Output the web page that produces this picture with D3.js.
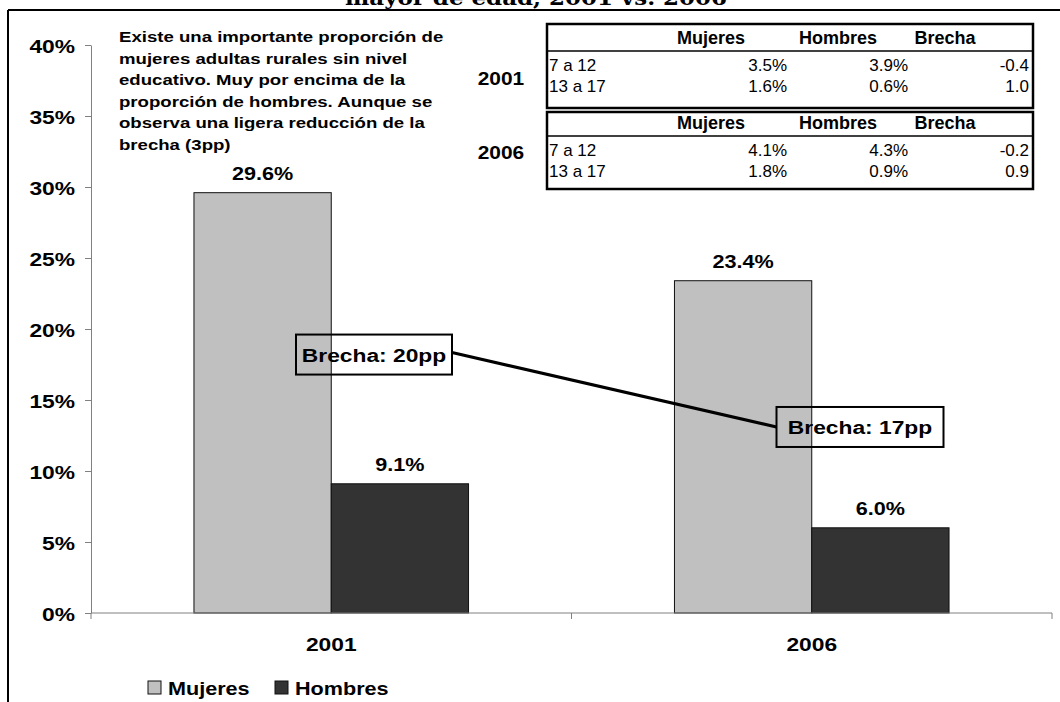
<!DOCTYPE html>
<html>
<head>
<meta charset="utf-8">
<script src="https://cdn.jsdelivr.net/npm/d3@7"></script>
<style>
  html, body { margin: 0; padding: 0; background: #fff; }
  svg { display: block; }
  text { font-family: "Liberation Sans", Arial, Helvetica, sans-serif; }
</style>
</head>
<body>
<svg id="chart" width="1060" height="702"></svg>
<script>
// ---------------- data ----------------
const titleText = "mayor de edad, 2001 vs. 2006";
const categories = ["2001", "2006"];
const series = ["Mujeres", "Hombres"];
const mujeres = [0.296, 0.234];
const hombres = [0.091, 0.060];
const yTicks = [0, 0.05, 0.10, 0.15, 0.20, 0.25, 0.30, 0.35, 0.40];
const brechaLabels = ["Brecha: 20pp", "Brecha: 17pp"];
const brechaLevels = [0.182, 0.131];
const noteLines = [
  "Existe una importante proporción de",
  "mujeres adultas rurales sin nivel",
  "educativo. Muy por encima de la",
  "proporción de hombres. Aunque se",
  "observa una ligera reducción de la",
  "brecha (3pp)"
];
const tableYears = ["2001", "2006"];
const tableHeaders = ["Mujeres", "Hombres", "Brecha"];
const ageGroups = ["7 a 12", "13 a 17"];
const tabMujeres = [[3.5, 1.6], [4.1, 1.8]];
const tabHombres = [[3.9, 0.6], [4.3, 0.9]];
const tabBrecha = [[-0.4, 1.0], [-0.2, 0.9]];

// ---------------- setup ----------------
const svg = d3.select("#chart");
const colors = { Mujeres: "#c0c0c0", Hombres: "#333333" };
const sx = 1.2; // horizontal stretch of the chart's text

const plot = { left: 91, right: 1052, top: 45, bottom: 613 };

const x0 = d3.scaleBand().domain(categories).range([plot.left, plot.right]).paddingInner(0).paddingOuter(0);
const x1 = d3.scaleBand().domain(series).range([0, x0.bandwidth()]).paddingInner(0).paddingOuter(0.75);
const y = d3.scaleLinear().domain([0, 0.40]).range([plot.bottom, plot.top]);

function stext(g, x, yy, str, size, anchor, weight, scale) {
  return g.append("text")
    .attr("transform", `translate(${x},${yy}) scale(${scale === undefined ? sx : scale},1)`)
    .attr("text-anchor", anchor || "start")
    .style("font-size", size + "px")
    .style("font-weight", weight || "bold")
    .attr("fill", "#000")
    .text(str);
}

// frame
svg.append("line").attr("x1", 8).attr("x2", 1060).attr("y1", 10).attr("y2", 10).attr("stroke", "#000").attr("stroke-width", 2);
svg.append("line").attr("x1", 8).attr("x2", 8).attr("y1", 10).attr("y2", 702).attr("stroke", "#000").attr("stroke-width", 2);

// title (cut off at the top, as in the reference)
svg.append("text")
  .attr("x", 536).attr("y", 5)
  .attr("text-anchor", "middle")
  .attr("textLength", 382).attr("lengthAdjust", "spacingAndGlyphs")
  .style("font-family", "'DejaVu Serif', 'Liberation Serif', serif")
  .style("font-weight", "bold").style("font-size", "20px")
  .text(titleText);

// bars
const data = categories.map((c, i) => ({ cat: c, values: [
  { key: "Mujeres", v: mujeres[i] },
  { key: "Hombres", v: hombres[i] }
]}));

const groups = svg.append("g").selectAll("g").data(data).join("g")
  .attr("transform", d => `translate(${x0(d.cat)},0)`);

groups.selectAll("rect").data(d => d.values).join("rect")
  .attr("x", d => x1(d.key))
  .attr("y", d => y(d.v))
  .attr("width", x1.bandwidth())
  .attr("height", d => y(0) - y(d.v))
  .attr("fill", d => colors[d.key])
  .attr("stroke", "#111")
  .attr("stroke-width", 1);

groups.each(function(d) {
  const g = d3.select(this);
  d.values.forEach(v => {
    stext(g, x1(v.key) + x1.bandwidth() / 2, y(v.v) - 13, d3.format(".1%")(v.v), 18, "middle");
  });
});

// y axis
const yAxis = svg.append("g")
  .attr("transform", `translate(${plot.left},0)`)
  .call(d3.axisLeft(y).tickValues(yTicks).tickFormat(d3.format(".0%")).tickSize(6).tickSizeOuter(0));
yAxis.select(".domain").attr("stroke", "#808080");
yAxis.selectAll(".tick line").attr("stroke", "#808080");
yAxis.selectAll(".tick text")
  .attr("x", null).attr("dy", null)
  .attr("transform", `translate(-16,7) scale(${sx},1)`)
  .attr("fill", "#000")
  .style("font-size", "19px").style("font-weight", "bold")
  .style("font-family", "'Liberation Sans', Arial, sans-serif");

// x axis (ticks at category boundaries)
const xAxis = svg.append("g");
xAxis.append("line").attr("x1", plot.left).attr("x2", plot.right)
  .attr("y1", y(0)).attr("y2", y(0)).attr("stroke", "#808080");
const bounds = categories.map(c => x0(c)).concat([x0(categories[categories.length - 1]) + x0.bandwidth()]);
xAxis.selectAll("line.tk").data(bounds).join("line").attr("class", "tk")
  .attr("x1", d => d).attr("x2", d => d)
  .attr("y1", y(0)).attr("y2", y(0) + 6).attr("stroke", "#808080");
categories.forEach(c => {
  stext(xAxis, x0(c) + x0.bandwidth() / 2, y(0) + 38, c, 19, "middle");
});

// note text
const note = svg.append("g");
noteLines.forEach((t, i) => {
  stext(note, 119, 42 + i * 21.5, t, 15.5, "start", "bold", 1.2);
});

// brecha annotation
const ann = svg.append("g");
const boxes = [
  { x: x0(categories[0]) + 205, w: 156 },
  { x: x0(categories[1]) + 205, w: 167 }
];
const boxH = 40;
brechaLabels.forEach((t, i) => {
  const cy = y(brechaLevels[i]);
  ann.append("rect").attr("x", boxes[i].x).attr("y", cy - boxH / 2)
    .attr("width", boxes[i].w).attr("height", boxH)
    .attr("fill", "none").attr("stroke", "#000").attr("stroke-width", 2);
  stext(ann, boxes[i].x + boxes[i].w / 2, cy + 7, t, 19, "middle");
});
ann.append("line")
  .attr("x1", boxes[0].x + boxes[0].w).attr("y1", y(brechaLevels[0]) - 2)
  .attr("x2", boxes[1].x).attr("y2", y(brechaLevels[1]))
  .attr("stroke", "#000").attr("stroke-width", 3);

// legend
const leg = svg.append("g");
const legItems = [{ key: "Mujeres", x: 148 }, { key: "Hombres", x: 275 }];
legItems.forEach(it => {
  leg.append("rect").attr("x", it.x).attr("y", 681).attr("width", 13).attr("height", 13)
    .attr("fill", colors[it.key]).attr("stroke", "#111").attr("stroke-width", 1);
  stext(leg, it.x + 20, 695, it.key, 18, "start");
});

// table
const tbl = svg.append("g");
const tLeft = 547, tRight = 1033;
const tabs = [
  { top: 24, headBottom: 51, bottom: 108, label: 85 },
  { top: 112, headBottom: 136, bottom: 189, label: 159 }
];
const colCenters = [711, 838, 945];
const colRights = [787, 908, 1029];
tabs.forEach((tb, ti) => {
  tbl.append("rect").attr("x", tLeft).attr("y", tb.top).attr("width", tRight - tLeft).attr("height", tb.bottom - tb.top)
    .attr("fill", "#fff").attr("stroke", "#000").attr("stroke-width", 2.5);
  tbl.append("line").attr("x1", tLeft).attr("x2", tRight).attr("y1", tb.headBottom).attr("y2", tb.headBottom)
    .attr("stroke", "#000").attr("stroke-width", 1.5);
  tableHeaders.forEach((h, hi) => {
    stext(tbl, colCenters[hi], tb.headBottom - 7, h, 18, "middle", "bold", 1);
  });
  ageGroups.forEach((a, ai) => {
    const by = tb.headBottom + 20 + ai * 21;
    stext(tbl, tLeft + 2, by, a, 17, "start", "normal", 1);
    stext(tbl, colRights[0], by, tabMujeres[ti][ai].toFixed(1) + "%", 17, "end", "normal", 1);
    stext(tbl, colRights[1], by, tabHombres[ti][ai].toFixed(1) + "%", 17, "end", "normal", 1);
    stext(tbl, colRights[2], by, tabBrecha[ti][ai].toFixed(1), 17, "end", "normal", 1);
  });
  stext(tbl, 501, tb.label, tableYears[ti], 19, "middle", "bold", 1.1);
});
</script>
</body>
</html>
